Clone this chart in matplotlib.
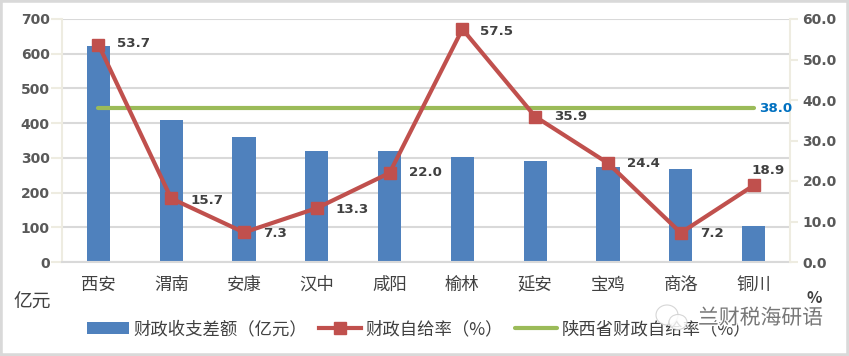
import matplotlib
matplotlib.use('Agg')
import matplotlib.pyplot as plt
import matplotlib.patheffects as pe
from matplotlib.patches import Rectangle, Ellipse
import numpy as np

plt.rcParams['font.family'] = ['Noto Sans CJK SC', 'DejaVu Sans']

cities = ['西安', '渭南', '安康', '汉中', '咸阳', '榆林', '延安', '宝鸡', '商洛', '铜川']
gap = [622, 408, 360, 320, 320, 302, 292, 275, 268, 105]
rate = [53.7, 15.7, 7.3, 13.3, 22.0, 57.5, 35.9, 24.4, 7.2, 18.9]
province = [38.0] * 10
left_ticks = [0, 100, 200, 300, 400, 500, 600, 700]
right_ticks = [0, 10, 20, 30, 40, 50, 60]

W, H = 849, 356
fig = plt.figure(figsize=(W / 100, H / 100), dpi=100)
fig.add_artist(Rectangle((0, 0), 1, 1, transform=fig.transFigure, fill=False,
                         ec='#d9d9d9', lw=4))

ax = fig.add_axes([62 / W, 1 - 262 / H, (790 - 62) / W, (262 - 19) / H])
x = np.arange(len(cities))
bars = ax.bar(x, gap, width=0.32, color='#4f81bd', zorder=2)
ax.set_xlim(-0.5, 9.5)
ax.set_ylim(0, 700)
ax.set_yticks(left_ticks)
ax.set_xticks(x)
ax.set_xticklabels(cities, fontsize=12.5, color='#404040')
ax.tick_params(axis='x', length=0, pad=10)
ax.tick_params(axis='y', length=8, width=1.5, color='#eeece1', labelcolor='#595959', pad=1)
ax.grid(axis='y', color='#d9d9d9', lw=1.5, zorder=0)
ax.set_axisbelow(True)
for lab in ax.get_yticklabels():
    lab.set_fontproperties({'family': 'DejaVu Sans', 'weight': 'bold', 'size': 10})
for s in ['top', 'right']:
    ax.spines[s].set_visible(False)
ax.spines['left'].set_color('#eeece1')
ax.spines['left'].set_linewidth(1.5)
ax.spines['bottom'].set_color('#d9d9d9')
ax.spines['bottom'].set_linewidth(1.5)

ax2 = ax.twinx()
ax2.set_ylim(0, 60)
ax2.set_yticks(right_ticks)
ax2.set_yticklabels(['%.1f' % v for v in right_ticks], family='DejaVu Sans',
                    weight='bold', fontsize=10, color='#595959')
ax2.tick_params(axis='y', length=6, width=1.5, color='#eeece1', direction='out', pad=3)
for s in ['top', 'left', 'bottom']:
    ax2.spines[s].set_visible(False)
ax2.spines['right'].set_color('#eeece1')
ax2.spines['right'].set_linewidth(1.5)

line_p, = ax2.plot(x, province, color='#9bbb59', lw=3, solid_capstyle='round', zorder=3)
line_r, = ax2.plot(x, rate, color='#c0504d', lw=3, marker='s', ms=8.6, zorder=4)

offsets = [(19, 1), (19, -2), (19, -1), (19, -1), (19, 0), (18, -2), (19, 0), (19, 0), (19, -1), (-2, 15)]
for xi, v, off in zip(x, rate, offsets):
    ax2.annotate('%.1f' % v, (xi, v), xytext=off, textcoords='offset pixels', ha='left',
                 va='center', family='DejaVu Sans', weight='bold', fontsize=9.6,
                 color='#404040', zorder=5)
ax2.annotate('%.1f' % province[-1], (x[-1], province[-1]), xytext=(6, 0),
             textcoords='offset pixels', ha='left', va='center', family='DejaVu Sans',
             weight='bold', fontsize=9.6, color='#0070c0', zorder=5)

fig.text(13 / W, 1 - 302 / H, '亿元', fontsize=13.5, color='#404040', ha='left', va='center')
fig.text(814 / W, 1 - 298 / H, '%', fontsize=11.5, weight='bold', color='#404040',
         ha='center', va='center')

leg = fig.legend([bars, line_r, line_p],
                 ['财政收支差额（亿元）', '财政自给率（%）', '陕西省财政自给率（%）'],
                 loc='center', bbox_to_anchor=(419 / W, 1 - 329 / H), ncol=3, frameon=False,
                 fontsize=12.5, labelcolor='#404040', handlelength=2.4, handletextpad=0.25,
                 columnspacing=0.72, borderpad=0)
leg.set_zorder(5)

# watermark, sits on top of the legend
for cx, cy, w, h in [(667, 315, 22, 20), (678, 322, 18, 15)]:
    fig.add_artist(Ellipse((cx / W, 1 - cy / H), w / W, h / H, transform=fig.transFigure,
                           fc='white', ec='#cfcfcf', lw=0.8, alpha=0.85, zorder=9))
wm = fig.text(698 / W, 1 - 318 / H, '兰财税海研语', fontsize=15, color='#777777',
              ha='left', va='center', zorder=10)
wm.set_path_effects([pe.withStroke(linewidth=2, foreground='white')])

fig.savefig('out.png', dpi=100)
